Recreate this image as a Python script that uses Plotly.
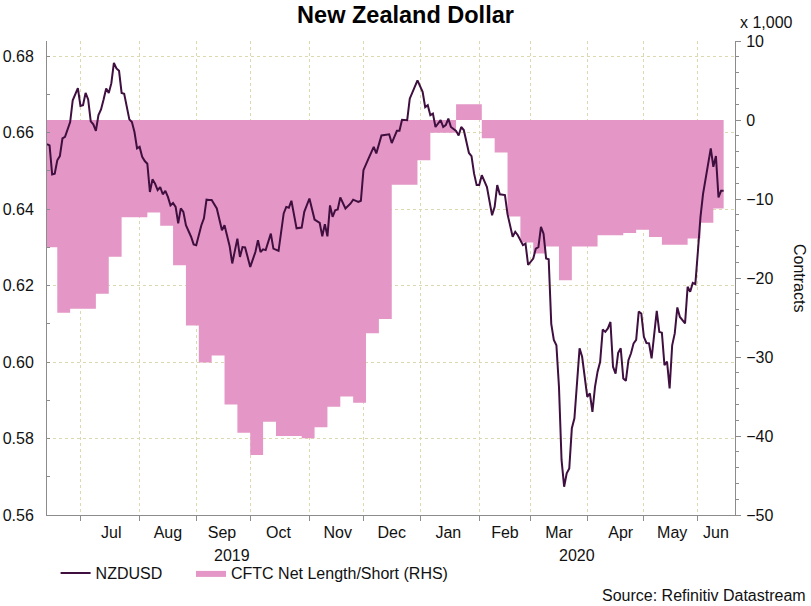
import plotly.graph_objects as go

# ---------------- data ----------------
nzd_dates = [
    "2019-06-12", "2019-06-13", "2019-06-14", "2019-06-17", "2019-06-18", "2019-06-19",
    "2019-06-20", "2019-06-21", "2019-06-25", "2019-06-26", "2019-06-28",
    "2019-07-01", "2019-07-02", "2019-07-03", "2019-07-04", "2019-07-05",
    "2019-07-08", "2019-07-09", "2019-07-10", "2019-07-11", "2019-07-12",
    "2019-07-15", "2019-07-16", "2019-07-17", "2019-07-18", "2019-07-19",
    "2019-07-22", "2019-07-23", "2019-07-24", "2019-07-25", "2019-07-26",
    "2019-07-29", "2019-07-30", "2019-07-31", "2019-08-01", "2019-08-02",
    "2019-08-05", "2019-08-06", "2019-08-07", "2019-08-08", "2019-08-09",
    "2019-08-12", "2019-08-13", "2019-08-14", "2019-08-15", "2019-08-16",
    "2019-08-19", "2019-08-20", "2019-08-21", "2019-08-22", "2019-08-23",
    "2019-08-26", "2019-08-27", "2019-08-29", "2019-08-30",
    "2019-09-02", "2019-09-03", "2019-09-04", "2019-09-05", "2019-09-06",
    "2019-09-09", "2019-09-10", "2019-09-12", "2019-09-16", "2019-09-17",
    "2019-09-19", "2019-09-20", "2019-09-24", "2019-09-25", "2019-09-26", "2019-09-27",
    "2019-10-01", "2019-10-03", "2019-10-04", "2019-10-07", "2019-10-08", "2019-10-09",
    "2019-10-11", "2019-10-14", "2019-10-16", "2019-10-18", "2019-10-21", "2019-10-22",
    "2019-10-23", "2019-10-25", "2019-10-29", "2019-10-30",
    "2019-11-01", "2019-11-05", "2019-11-07", "2019-11-08", "2019-11-11", "2019-11-12",
    "2019-11-13", "2019-11-14", "2019-11-15", "2019-11-18", "2019-11-19", "2019-11-21",
    "2019-11-25", "2019-11-26", "2019-11-28", "2019-11-29",
    "2019-12-02", "2019-12-04", "2019-12-06", "2019-12-09", "2019-12-11", "2019-12-16",
    "2019-12-17", "2019-12-19", "2019-12-20", "2019-12-23", "2019-12-25", "2019-12-26",
    "2019-12-31",
    "2020-01-02", "2020-01-03", "2020-01-06", "2020-01-07", "2020-01-08", "2020-01-09",
    "2020-01-13", "2020-01-14", "2020-01-15", "2020-01-16", "2020-01-17", "2020-01-21",
    "2020-01-22", "2020-01-23", "2020-01-24", "2020-01-28", "2020-01-29", "2020-01-30",
    "2020-01-31",
    "2020-02-03", "2020-02-04", "2020-02-06", "2020-02-10", "2020-02-11", "2020-02-12",
    "2020-02-13", "2020-02-17", "2020-02-18", "2020-02-20", "2020-02-21", "2020-02-24",
    "2020-02-26", "2020-02-27", "2020-02-28",
    "2020-03-03", "2020-03-04", "2020-03-05", "2020-03-06", "2020-03-09", "2020-03-10",
    "2020-03-11", "2020-03-12", "2020-03-13", "2020-03-16", "2020-03-17", "2020-03-18",
    "2020-03-19", "2020-03-20", "2020-03-23", "2020-03-24", "2020-03-25", "2020-03-26",
    "2020-03-27", "2020-03-30",
    "2020-04-01", "2020-04-02", "2020-04-03", "2020-04-06", "2020-04-07", "2020-04-08",
    "2020-04-09", "2020-04-10", "2020-04-13", "2020-04-14", "2020-04-15", "2020-04-16",
    "2020-04-17", "2020-04-20", "2020-04-21", "2020-04-22", "2020-04-23", "2020-04-24",
    "2020-04-27", "2020-04-28", "2020-04-29", "2020-04-30",
    "2020-05-01", "2020-05-04", "2020-05-05", "2020-05-06", "2020-05-07", "2020-05-08",
    "2020-05-11", "2020-05-12", "2020-05-13", "2020-05-14", "2020-05-15", "2020-05-18",
    "2020-05-19", "2020-05-20", "2020-05-21", "2020-05-22", "2020-05-25", "2020-05-26",
    "2020-05-27", "2020-05-28", "2020-05-29",
    "2020-06-01", "2020-06-02", "2020-06-03", "2020-06-04", "2020-06-05", "2020-06-08",
    "2020-06-09", "2020-06-10", "2020-06-11", "2020-06-12", "2020-06-15",
]
nzd_values = [
    0.6570, 0.6567, 0.6491, 0.6493, 0.6528, 0.6539,
    0.6585, 0.6589, 0.6628, 0.6685, 0.6717,
    0.6670, 0.6672, 0.6704, 0.6687, 0.6630,
    0.6622, 0.6605, 0.6646, 0.6661, 0.6687,
    0.6716, 0.6704, 0.6729, 0.6783, 0.6768,
    0.6762, 0.6704, 0.6702, 0.6663, 0.6635,
    0.6628, 0.6602, 0.6559, 0.6563, 0.6537,
    0.6526, 0.6519, 0.6445, 0.6478, 0.6467,
    0.6450, 0.6458, 0.6439, 0.6448, 0.6432,
    0.6410, 0.6416, 0.6406, 0.6363, 0.6402,
    0.6393, 0.6358, 0.6328, 0.6308,
    0.6306, 0.6332, 0.6358, 0.6376, 0.6425,
    0.6424, 0.6424, 0.6402, 0.6345, 0.6358,
    0.6303, 0.6258, 0.6323, 0.6275, 0.6301, 0.6300,
    0.6249, 0.6288, 0.6319, 0.6288, 0.6295, 0.6293,
    0.6336, 0.6297, 0.6291, 0.6389, 0.6406, 0.6404,
    0.6422, 0.6350, 0.6352, 0.6393,
    0.6428, 0.6373, 0.6364, 0.6329, 0.6361, 0.6329,
    0.6410, 0.6380, 0.6397, 0.6399, 0.6431, 0.6402,
    0.6415, 0.6425, 0.6419, 0.6422,
    0.6502, 0.6533, 0.6563, 0.6546, 0.6593, 0.6596,
    0.6573, 0.6605, 0.6605, 0.6634, 0.6633, 0.6689,
    0.6737,
    0.6707, 0.6667, 0.6672, 0.6646, 0.6650, 0.6615,
    0.6633, 0.6615, 0.6620, 0.6637, 0.6615, 0.6605,
    0.6593, 0.6615, 0.6607, 0.6547, 0.6539, 0.6493,
    0.6463,
    0.6463, 0.6489, 0.6458, 0.6384, 0.6406, 0.6463,
    0.6439, 0.6437, 0.6387, 0.6328, 0.6341, 0.6332,
    0.6306, 0.6310, 0.6254,
    0.6271, 0.6297, 0.6301, 0.6354, 0.6336, 0.6271,
    0.6269, 0.6100, 0.6058, 0.6044, 0.5935, 0.5744,
    0.5674, 0.5709, 0.5722, 0.5827, 0.5853, 0.5953,
    0.6036, 0.6014,
    0.5909, 0.5918, 0.5870, 0.5935, 0.5975, 0.6001,
    0.6085, 0.6079, 0.6088, 0.6105, 0.5988, 0.5970,
    0.6024, 0.6036, 0.5957, 0.5951, 0.6005, 0.6023,
    0.6049, 0.6058, 0.6132, 0.6127,
    0.6066, 0.6050, 0.6049, 0.6010, 0.6075, 0.6134,
    0.6079, 0.6077, 0.5992, 0.6001, 0.5931, 0.6044,
    0.6075, 0.6143, 0.6118, 0.6110, 0.6101, 0.6197,
    0.6184, 0.6207, 0.6204,
    0.6290, 0.6380, 0.6440, 0.6480, 0.6519, 0.6559,
    0.6511, 0.6539, 0.6431, 0.6448, 0.6448,
]

# CFTC net position (thousand contracts), weekly; last entry closes the final step
cftc_dates = [
    "2019-06-11", "2019-06-18", "2019-06-25", "2019-07-02", "2019-07-09", "2019-07-16",
    "2019-07-23", "2019-07-30", "2019-08-06", "2019-08-13", "2019-08-20", "2019-08-27",
    "2019-09-03", "2019-09-10", "2019-09-17", "2019-09-24", "2019-10-01", "2019-10-08",
    "2019-10-15", "2019-10-22", "2019-10-29", "2019-11-05", "2019-11-12", "2019-11-19",
    "2019-11-26", "2019-12-03", "2019-12-10", "2019-12-17", "2019-12-24", "2019-12-31",
    "2020-01-07", "2020-01-14", "2020-01-21", "2020-01-28", "2020-02-04", "2020-02-11",
    "2020-02-18", "2020-02-25", "2020-03-03", "2020-03-10", "2020-03-17", "2020-03-24",
    "2020-03-31", "2020-04-07", "2020-04-14", "2020-04-21", "2020-04-28", "2020-05-05",
    "2020-05-12", "2020-05-19", "2020-05-26", "2020-06-02", "2020-06-09", "2020-06-15",
]
cftc_values = [
    -16.1, -24.4, -23.9, -23.9, -22.0, -17.3,
    -12.3, -12.3, -11.7, -13.4, -18.4, -26.0,
    -30.7, -29.8, -36.0, -39.6, -42.4, -38.2,
    -40.0, -40.0, -40.3, -38.9, -36.3, -35.0,
    -35.8, -27.0, -25.2, -8.2, -8.2, -5.1,
    -1.6, -1.6, 2.0, 2.0, -2.3, -4.1,
    -12.2, -15.5, -16.9, -16.0, -20.3, -16.0,
    -16.0, -14.6, -14.6, -14.3, -13.9, -14.8,
    -15.8, -15.8, -15.0, -13.0, -11.2, -11.2,
]

# first trading day of each month (tick marks / vertical grid)
month_tick_dates = [
    "2019-07-01", "2019-08-01", "2019-09-02", "2019-10-01", "2019-11-01", "2019-12-02",
    "2020-01-01", "2020-02-03", "2020-03-02", "2020-04-01", "2020-05-01", "2020-06-01",
]
# month label positions and texts
month_label_dates = [
    "2019-07-17", "2019-08-16", "2019-09-16", "2019-10-16", "2019-11-18", "2019-12-17",
    "2020-01-16", "2020-02-17", "2020-03-17", "2020-04-20", "2020-05-18", "2020-06-10",
]
month_labels = ["Jul", "Aug", "Sep", "Oct", "Nov", "Dec",
                "Jan", "Feb", "Mar", "Apr", "May", "Jun"]
year_label_dates = ["2019-09-20", "2020-03-26"]
year_labels = ["2019", "2020"]

# ---------------- styling ----------------
LINE = "#3f0f3f"
FILL = "#e497c6"
GRID = "#dcd8b0"
AXIS = "#8c8c8c"
TXT = "#111111"
FONT = "Liberation Sans, Arial, sans-serif"

fig = go.Figure()
fig.add_trace(go.Scatter(
    x=nzd_dates, y=nzd_values, name="NZDUSD", mode="lines",
    line=dict(color=LINE, width=2), yaxis="y2", legend="legend",
))
fig.add_trace(go.Scatter(
    x=cftc_dates, y=cftc_values, name="CFTC Net Length/Short (RHS)", mode="lines",
    line=dict(width=0, shape="hv", color=FILL), fill="tozeroy", fillcolor=FILL,
    yaxis="y", legend="legend2",
))

annotations = []
for d, t in zip(year_label_dates, year_labels):
    annotations.append(dict(x=d, y=-0.0844, xref="x", yref="paper", text=t,
                            showarrow=False, yanchor="middle", xanchor="center",
                            font=dict(size=16, color=TXT)))
annotations += [
    dict(x=1.0465, y=1.040, xref="paper", yref="paper", text="x 1,000", showarrow=False,
         xanchor="center", yanchor="middle", font=dict(size=16, color=TXT)),
    dict(x=1.0945, y=0.5, xref="paper", yref="paper", text="Contracts", showarrow=False,
         textangle=90, xanchor="center", yanchor="middle", font=dict(size=16, color=TXT)),
    dict(x=1.106, y=-0.170, xref="paper", yref="paper", text="Source: Refinitiv Datastream",
         showarrow=False, xanchor="right", yanchor="middle", font=dict(size=16, color=TXT)),
]

legend_common = dict(orientation="h", yanchor="top", y=-0.0865, xanchor="left",
                     font=dict(size=16, color=TXT), bgcolor="rgba(0,0,0,0)")

fig.update_layout(
    width=811, height=606,
    margin=dict(l=47, r=76, t=41, b=91, autoexpand=False),
    paper_bgcolor="white", plot_bgcolor="white",
    font=dict(family=FONT, size=16, color=TXT),
    title=dict(text="<b>New Zealand Dollar</b>", x=0.5, xref="container", xanchor="center",
               y=1 - 15 / 606, yref="container", yanchor="middle",
               font=dict(size=23.5, color="#000000")),
    showlegend=True,
    legend=dict(x=0.0125, **legend_common),
    legend2=dict(x=0.2093, **legend_common),
    annotations=annotations,
    xaxis=dict(
        type="date", range=["2019-06-12", "2020-06-19 10:00"],
        rangebreaks=[dict(bounds=["sat", "mon"])],
        tickmode="array", tickvals=month_label_dates, ticktext=month_labels,
        ticks="", showgrid=False, zeroline=False, automargin=False,
        showline=True, linecolor=AXIS, linewidth=1,
        ticklabelstandoff=3,
        minor=dict(tickmode="array", tickvals=month_tick_dates, ticks="outside", ticklen=5,
                   tickcolor=AXIS, showgrid=True, gridcolor=GRID, griddash="dot", gridwidth=1),
    ),
    yaxis=dict(
        side="right", range=[-50, 10], tickmode="linear", tick0=0, dtick=10,
        ticks="outside", ticklen=5, tickcolor=AXIS, showgrid=False, zeroline=False,
        showline=True, linecolor=AXIS, ticklabelstandoff=2, automargin=False,
        minor=dict(tickmode="linear", tick0=0, dtick=2, ticks="outside", ticklen=3,
                   tickcolor=AXIS, showgrid=False),
    ),
    yaxis2=dict(
        side="left", overlaying="y", range=[0.56, 0.684], tickmode="linear", tick0=0.56,
        dtick=0.02, tickformat=".2f", ticks="inside", ticklen=3, tickcolor=AXIS,
        showgrid=True, gridcolor=GRID, griddash="dot", zeroline=False,
        showline=True, linecolor=AXIS, ticklabelstandoff=9, automargin=False,
        minor=dict(tickmode="linear", tick0=0.56, dtick=0.01, ticks="inside", ticklen=3,
                   tickcolor=AXIS, showgrid=False),
    ),
)

fig.write_html("out.html", config={"displayModeBar": False},
               post_script="document.body.style.margin='0px';")
